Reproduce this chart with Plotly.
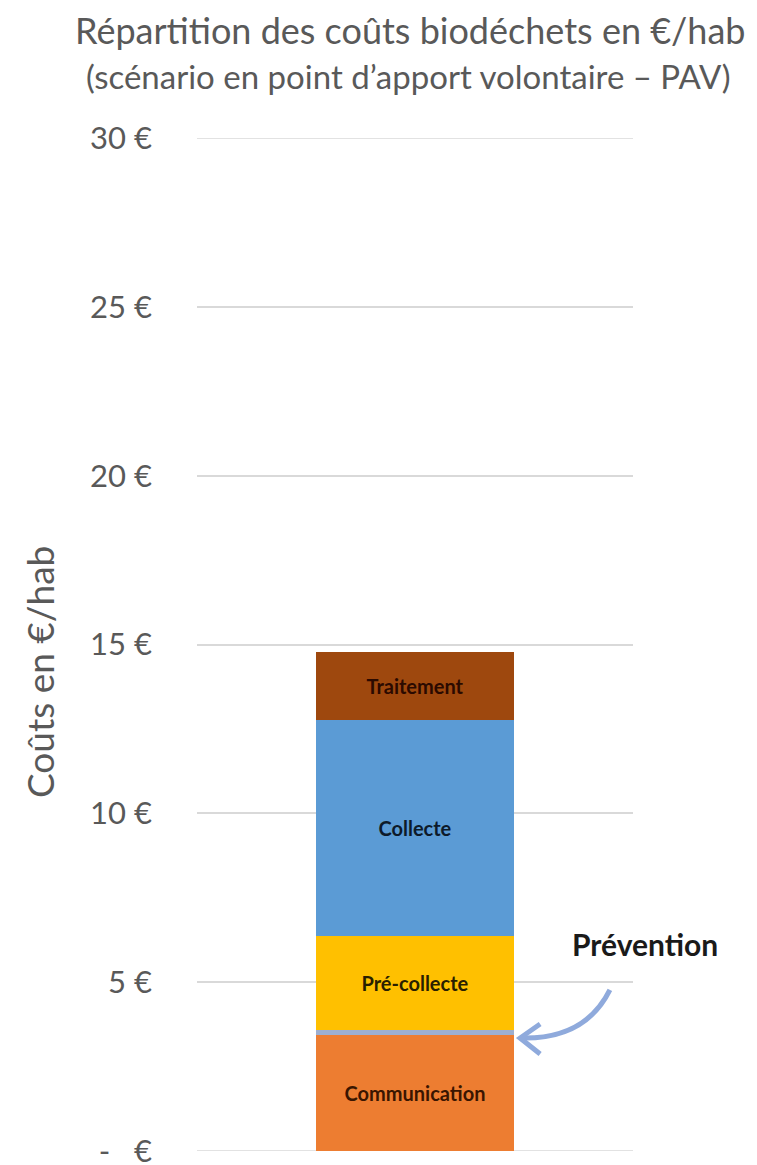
import plotly.graph_objects as go

categories = ["PAV"]
segments = ["Communication", "Prévention", "Pré-collecte", "Collecte", "Traitement"]
values = [3.43, 0.15, 2.78, 6.39, 2.04]
colors = ["#ED7D31", "#9DAFD0", "#FFC000", "#5B9BD5", "#9E480E"]
labels = ["Communication", "", "Pré-collecte", "Collecte", "Traitement"]
label_colors = ["#3a1500", "#000000", "#2a1f00", "#0d1a2a", "#2b0a00"]
tick_vals = [0, 5, 10, 15, 20, 25, 30]
tick_text = ["-\u00a0\u00a0\u00a0€", "5 €", "10 €", "15 €", "20 €", "25 €", "30 €"]

FONT = "Lato"
GRAY = "#595959"
GRID = "#D9D9D9"

W, H = 757, 1165
L, T = 197, 138
PW, PH = 436, 1013

fig = go.Figure()
for seg, v, c, lab, lc in zip(segments, values, colors, labels, label_colors):
    fig.add_trace(go.Bar(
        x=categories, y=[v], name=seg, marker=dict(color=c, line=dict(width=0)),
        text=[lab], textposition="inside", insidetextanchor="middle", textangle=0,
        insidetextfont=dict(family=FONT, size=20, color=lc, weight="bold"),
        hoverinfo="skip", width=0.455,
    ))

fig.update_layout(
    barmode="stack", width=W, height=H, showlegend=False,
    plot_bgcolor="white", paper_bgcolor="white",
    margin=dict(l=L, r=W - L - PW, t=T, b=H - T - PH),
    font=dict(family=FONT, color=GRAY),
)
fig.update_xaxes(showticklabels=False, showgrid=False, zeroline=False, showline=False,
                 automargin=False)
fig.update_yaxes(range=[0, 30], tickvals=tick_vals, ticktext=tick_text,
                 showgrid=True, gridcolor=GRID, gridwidth=1.5,
                 zeroline=False, showline=False, ticks="",
                 tickfont=dict(family=FONT, size=31, color=GRAY),
                 ticklabelstandoff=44, ticklabeloverflow="allow", automargin=False)
for yv in (0, 30):
    fig.add_shape(type="line", xref="paper", yref="y", x0=0, x1=1, y0=yv, y1=yv,
                  line=dict(color=GRID, width=1.5), layer="below")

fig.add_annotation(text="Répartition des coûts biodéchets en €/hab", xref="paper", yref="paper",
                   x=(410 - 197) / PW, y=1 + (138 - 30) / PH, xanchor="center", yanchor="middle",
                   showarrow=False, font=dict(family=FONT, size=36, color=GRAY))
fig.add_annotation(text="(scénario en point d’apport volontaire – PAV)", xref="paper", yref="paper",
                   x=(408 - 197) / PW, y=1 + (138 - 76) / PH, xanchor="center", yanchor="middle",
                   showarrow=False, font=dict(family=FONT, size=33, color=GRAY))
fig.add_annotation(text="Coûts en €/hab", xref="paper", yref="paper",
                   x=(40 - 197) / PW, y=(1151 - 672) / PH, xanchor="center", yanchor="middle",
                   textangle=-90, showarrow=False, font=dict(family=FONT, size=37, color=GRAY))
fig.add_annotation(text="<b>Prévention</b>", xref="paper", yref="paper",
                   x=(645 - 197) / PW, y=(1151 - 944) / PH, xanchor="center", yanchor="middle",
                   showarrow=False, font=dict(family=FONT, size=30, color="#1a1a1a"))

arrow_color = "#8FAADC"
fig.add_shape(type="path", xref="paper", yref="paper",
              path="M 0.947,0.159 Q 0.890,0.1096 0.741,0.1115",
              line=dict(color=arrow_color, width=5))
fig.add_shape(type="path", xref="paper", yref="paper",
              path="M 0.787,0.1254 L 0.741,0.1115 L 0.787,0.0958",
              line=dict(color=arrow_color, width=5))

fig.write_html("out.html", config={"displayModeBar": False},
               post_script="document.body.style.margin='0';document.body.style.overflow='hidden';")
